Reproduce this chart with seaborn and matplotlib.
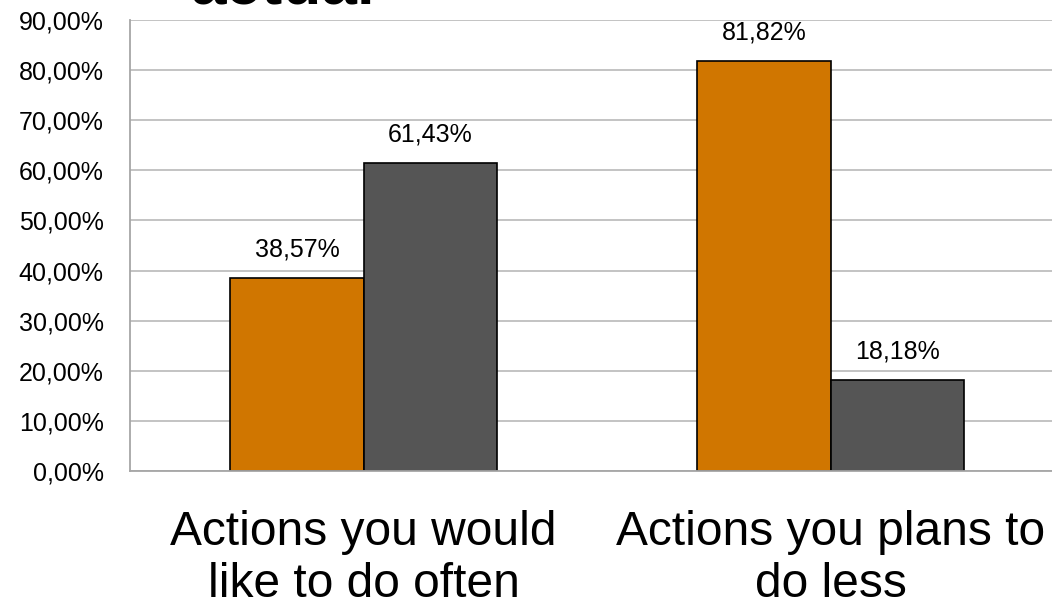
import matplotlib
matplotlib.use("Agg")
import matplotlib.pyplot as plt
import seaborn as sns
import pandas as pd
from matplotlib.ticker import FuncFormatter, FixedLocator

categories = ["Actions you would\nlike to do often", "Actions you plans to\ndo less"]
series = ["Series 1", "Series 2"]
values_s1 = [38.57, 81.82]
values_s2 = [61.43, 18.18]
y_ticks = [0, 10, 20, 30, 40, 50, 60, 70, 80, 90]

df = pd.DataFrame({
    "category": categories * 2,
    "series": [series[0]] * 2 + [series[1]] * 2,
    "value": values_s1 + values_s2,
})

sns.set_theme(style="white")
plt.rcParams["font.family"] = ["Liberation Sans", "DejaVu Sans"]

fig = plt.figure(figsize=(10.52, 6.07), dpi=100)
ax = fig.add_axes([130 / 1052, 1 - 471 / 607, (1064 - 130) / 1052, (471 - 20) / 607])

sns.barplot(data=df, x="category", y="value", hue="series",
            palette=["#D07600", "#555555"], width=0.57,
            edgecolor="black", linewidth=1.2, saturation=1, ax=ax, legend=False)

ax.set_ylim(0, 90)
ax.set_xlim(-0.5, 1.5)
ax.yaxis.set_major_locator(FixedLocator(y_ticks))
ax.yaxis.set_major_formatter(FuncFormatter(lambda v, p: f"{v:.2f}%".replace(".", ",")))
ax.grid(axis="y", color="#BEBEBE", linewidth=1.3)
ax.set_axisbelow(True)

for s in ["top", "right"]:
    ax.spines[s].set_visible(False)
for s in ["left", "bottom"]:
    ax.spines[s].set_color("#A6A6A6")
    ax.spines[s].set_linewidth(1.3)

ax.tick_params(axis="y", labelsize=18, length=0, pad=19, colors="black")
ax.tick_params(axis="x", which="major", labelsize=34.5, length=0, pad=28, colors="black")
ax.set_xticks([-0.5, 0.5, 1.5], minor=True)
ax.tick_params(axis="x", which="minor", length=15, width=1.3, color="#A6A6A6")
for lbl in ax.get_xticklabels():
    lbl.set_linespacing(1.2)
ax.set_xlabel("")
ax.set_ylabel("")

for cont in ax.containers:
    ax.bar_label(cont, labels=[f"{v:.2f}%".replace(".", ",") for v in cont.datavalues],
                 fontsize=18, padding=12, color="black")

fig.text(190 / 1052, 1 - 3 / 607, "actual", fontsize=46, fontweight="bold",
         va="baseline", ha="left", color="black")

fig.savefig("out.png", dpi=100)
